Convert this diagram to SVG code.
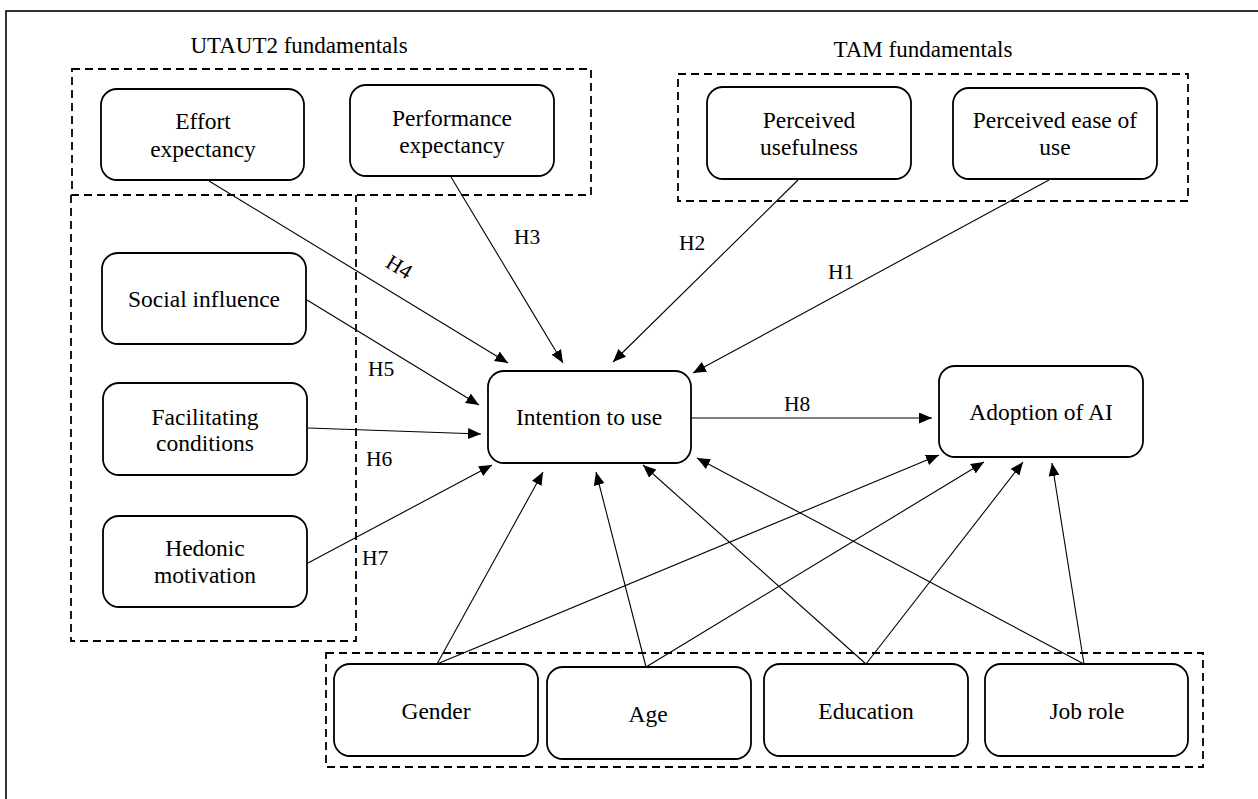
<svg xmlns="http://www.w3.org/2000/svg" width="1258" height="799" viewBox="0 0 1258 799">
<style>
  .node rect { fill: #fff; stroke: #000; stroke-width: 1.8; }
  .node text, .title, .lbl { font-family: "Liberation Serif", "Times New Roman", serif; fill: #000; }
  .node text { font-size: 23.5px; text-anchor: middle; }
  .title { font-size: 23px; text-anchor: middle; }
  .lbl { font-size: 21.5px; }
  .dash { fill: none; stroke: #000; stroke-width: 1.8; stroke-dasharray: 8 5; }
  .conn line { stroke: #000; stroke-width: 1.1; marker-end: url(#ah); }
</style>
<defs>
  <marker id="ah" markerUnits="userSpaceOnUse" markerWidth="13" markerHeight="11" refX="13" refY="5.5" orient="auto">
    <path d="M0,0 L13,5.5 L0,11 Z" fill="#000"/>
  </marker>
</defs>
<rect x="0" y="0" width="1258" height="799" fill="#fff"/>
<rect x="6" y="11" width="1300" height="900" fill="none" stroke="#000" stroke-width="1.6"/>

<g id="groups">
  <text class="title" x="299" y="53">UTAUT2 fundamentals</text>
  <text class="title" x="923" y="57">TAM fundamentals</text>
  <rect class="dash" x="72" y="69" width="519" height="126"/>
  <path class="dash" d="M71,195 V641 H356 V195"/>
  <rect class="dash" x="678" y="74" width="510" height="127"/>
  <rect class="dash" x="326" y="653" width="877" height="114"/>
</g>

<g id="connectors" class="conn">
  <line x1="209" y1="181" x2="508" y2="363"/>
  <line x1="451" y1="177" x2="563" y2="363"/>
  <line x1="798" y1="180" x2="613" y2="362"/>
  <line x1="1049" y1="180" x2="693" y2="373"/>
  <line x1="307" y1="300" x2="479" y2="405"/>
  <line x1="308" y1="428" x2="481" y2="434"/>
  <line x1="308" y1="563" x2="492" y2="465"/>
  <line x1="691" y1="418" x2="932" y2="418"/>
  <line x1="437" y1="664" x2="543" y2="472"/>
  <line x1="437" y1="664" x2="939" y2="455"/>
  <line x1="646" y1="667" x2="596" y2="472"/>
  <line x1="646" y1="667" x2="984" y2="462"/>
  <line x1="866" y1="664" x2="643" y2="465"/>
  <line x1="866" y1="664" x2="1023" y2="462"/>
  <line x1="1084" y1="664" x2="697" y2="458"/>
  <line x1="1084" y1="664" x2="1052" y2="463"/>
</g>

<g id="labels">
  <text class="lbl" text-anchor="middle" transform="translate(399,267) rotate(31)" x="0" y="7">H4</text>
  <text class="lbl" x="514" y="244">H3</text>
  <text class="lbl" x="679" y="250">H2</text>
  <text class="lbl" x="828" y="279">H1</text>
  <text class="lbl" x="368" y="376">H5</text>
  <text class="lbl" x="366" y="466">H6</text>
  <text class="lbl" x="362" y="565">H7</text>
  <text class="lbl" x="784" y="411">H8</text>
</g>

<g id="effort" class="node"><rect x="101" y="89" width="203" height="91" rx="16"/><text x="203" y="129">Effort</text><text x="203" y="157">expectancy</text></g>
<g id="performance" class="node"><rect x="350" y="85" width="204" height="91" rx="16"/><text x="452" y="126">Performance</text><text x="452" y="153">expectancy</text></g>
<g id="usefulness" class="node"><rect x="707" y="87" width="204" height="92" rx="16"/><text x="809" y="128">Perceived</text><text x="809" y="155">usefulness</text></g>
<g id="ease" class="node"><rect x="953" y="88" width="204" height="91" rx="16"/><text x="1055" y="128">Perceived ease of</text><text x="1055" y="155">use</text></g>
<g id="social" class="node"><rect x="102" y="253" width="204" height="91" rx="16"/><text x="204" y="307">Social influence</text></g>
<g id="facilitating" class="node"><rect x="103" y="383" width="204" height="92" rx="16"/><text x="205" y="425">Facilitating</text><text x="205" y="451">conditions</text></g>
<g id="hedonic" class="node"><rect x="103" y="516" width="204" height="91" rx="16"/><text x="205" y="556">Hedonic</text><text x="205" y="583">motivation</text></g>
<g id="intention" class="node"><rect x="488" y="371" width="203" height="92" rx="16"/><text x="589" y="425">Intention to use</text></g>
<g id="adoption" class="node"><rect x="939" y="366" width="204" height="91" rx="16"/><text x="1041" y="420">Adoption of AI</text></g>
<g id="gender" class="node"><rect x="334" y="664" width="204" height="92" rx="16"/><text x="436" y="719">Gender</text></g>
<g id="age" class="node"><rect x="547" y="667" width="204" height="92" rx="16"/><text x="648" y="722">Age</text></g>
<g id="education" class="node"><rect x="764" y="664" width="204" height="92" rx="16"/><text x="866" y="719">Education</text></g>
<g id="jobrole" class="node"><rect x="985" y="664" width="203" height="92" rx="16"/><text x="1087" y="719">Job role</text></g>
</svg>
